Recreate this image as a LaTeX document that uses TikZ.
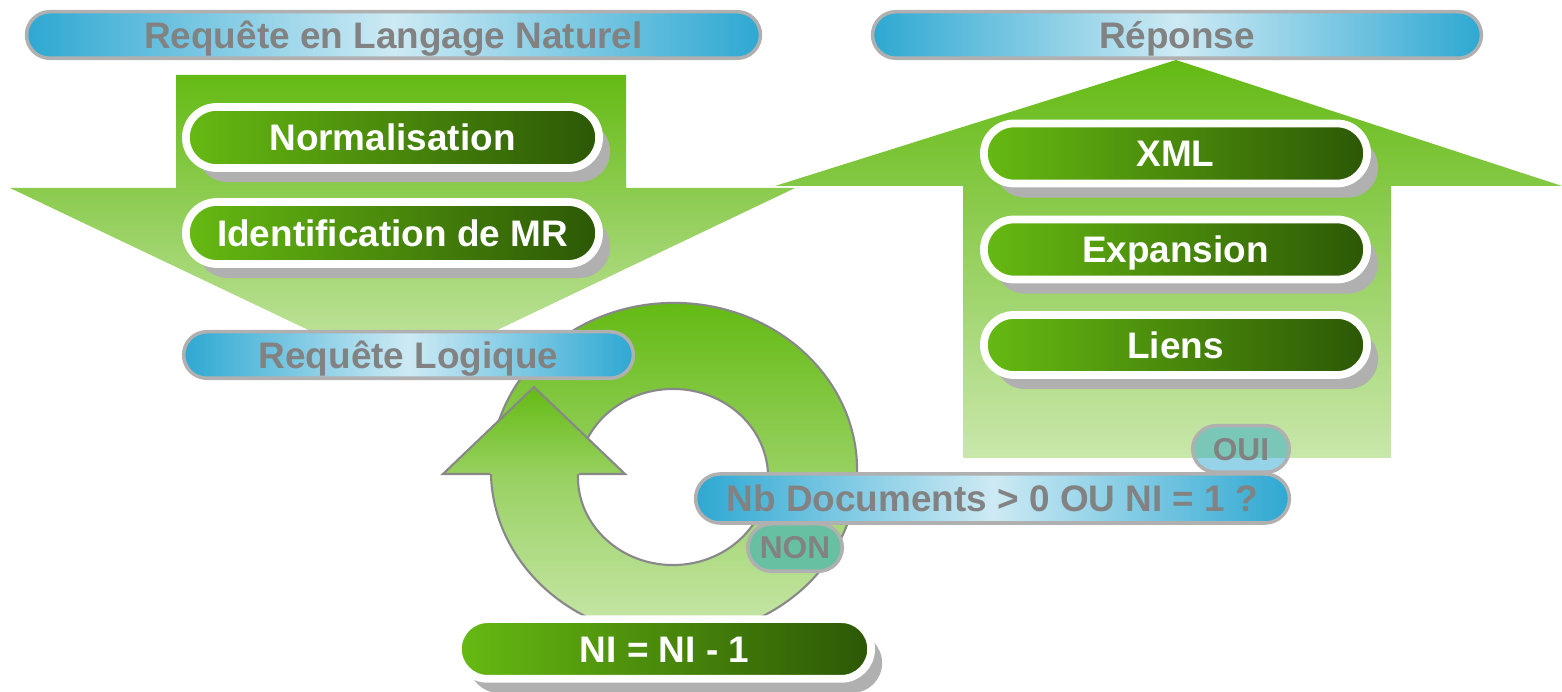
\documentclass[tikz,border=0pt]{standalone}
\usepackage{fontspec}
\setmainfont{Liberation Sans}
\usetikzlibrary{shapes.misc,shadows}
\definecolor{bluedge}{HTML}{2EA8D2}
\definecolor{bluemid}{HTML}{CDEAF4}
\definecolor{pillgray}{HTML}{B0B0B0}
\definecolor{textgray}{HTML}{828282}
\definecolor{gleft}{HTML}{66BA12}
\definecolor{gright}{HTML}{2C5705}
\definecolor{arrtop}{HTML}{64BA14}
\definecolor{arrbot}{HTML}{C9E7AB}
\definecolor{ringline}{HTML}{888888}
\definecolor{ouiteal}{HTML}{7AC7B7}
\definecolor{ouiblue}{HTML}{96D3E8}
\definecolor{nonteal}{HTML}{68C0A2}
\tikzset{
  lbl/.style={font=\bfseries\fontsize{10.5}{12}\selectfont, text height=7.5pt, text depth=0pt},
  bluepill/.style={rounded rectangle, draw=pillgray, line width=1pt, inner sep=0pt,
    left color=bluedge, right color=bluedge, middle color=bluemid, text=textgray, lbl},
  greenpill/.style={rounded rectangle, draw=white, line width=2.2pt, inner sep=0pt,
    left color=gleft, right color=gright, text=white, lbl, minimum height=0.6cm,
    drop shadow={shadow xshift=0.11cm, shadow yshift=-0.14cm, fill=pillgray, opacity=1}},
  smallpill/.style={rounded rectangle, draw=pillgray, line width=1pt, inner sep=0pt,
    text=textgray, font=\bfseries\fontsize{9}{11}\selectfont, text height=6.4pt, text depth=0pt},
  bigarrow/.style={top color=arrtop, bottom color=arrbot},
  ringstyle/.style={draw=ringline, line width=0.6pt},
}
\begin{document}
\begin{tikzpicture}[x=0.01cm, y=-0.01cm]
\useasboundingbox (0,0) rectangle (1562,692);
% big arrows
\shade[bigarrow] (176,75) -- (626,75) -- (626,188) -- (795,188) -- (403,375) -- (10,188) -- (176,188) -- cycle;
\shade[bigarrow] (1176,60) -- (1562,186) -- (1391,186) -- (1391,458) -- (963,458) -- (963,186) -- (775,186) -- cycle;
% circular arrow
\shadedraw[bigarrow, ringstyle, even odd rule]
  (674,470) ellipse [x radius=1.83cm, y radius=1.67cm]
  (673,477) ellipse [x radius=0.95cm, y radius=0.88cm];
\shadedraw[top color=arrtop, bottom color=arrtop!50!arrbot, ringstyle]
  (490,474) -- (443,474) -- (534,387) -- (625,474) -- (579,474);
% green pills
\node[greenpill, minimum width=4.13cm, minimum height=0.61cm] (norm) at (392.5,137.5) {Normalisation};
\node[greenpill, minimum width=4.13cm, minimum height=0.62cm] (ident) at (392.5,233) {Identification de MR};
\node[greenpill, minimum width=3.83cm] (xml) at (1175.5,153.5) {XML};
\node[greenpill, minimum width=3.83cm] (exp) at (1175.5,249.5) {Expansion};
\node[greenpill, minimum width=3.83cm] (liens) at (1175.5,345) {Liens};
\node[greenpill, minimum width=4.13cm, minimum height=0.597cm] (ni) at (664.5,649) {NI = NI - 1};
% blue pills
\node[bluepill, minimum width=7.335cm, minimum height=0.465cm] (rnl) at (393.5,35) {Requête en Langage Naturel};
\node[bluepill, minimum width=6.085cm, minimum height=0.465cm] (rep) at (1177,35) {Réponse};
\node[bluepill, minimum width=4.495cm, minimum height=0.465cm] (rl) at (408.5,355) {Requête Logique};
% decision
\node[smallpill, fill=ouiblue, minimum width=0.965cm, minimum height=0.465cm,
  path picture={\fill[ouiteal] ([yshift=1cm]path picture bounding box.north west) rectangle ([yshift=-0.09cm]path picture bounding box.east);}]
  (oui) at (1241,449) {\makebox[0pt]{OUI}};
\node[smallpill, fill=nonteal, minimum width=0.945cm, minimum height=0.475cm] (non) at (795,547.5) {\makebox[0pt]{NON}};
\node[bluepill, minimum width=5.935cm, minimum height=0.49cm] (nb) at (992.5,498.5) {\makebox[0pt]{Nb Documents > 0 OU NI = 1 ?}};
\end{tikzpicture}
\end{document}
